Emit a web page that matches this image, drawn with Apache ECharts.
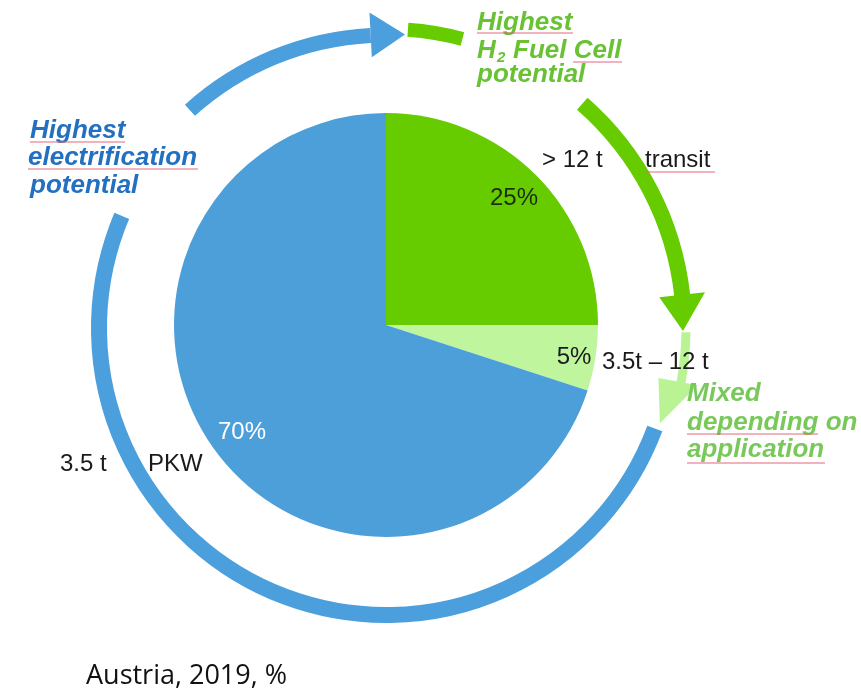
<!DOCTYPE html>
<html>
<head>
<meta charset="utf-8">
<script src="https://cdn.jsdelivr.net/npm/echarts@6/dist/echarts.min.js"></script>
<style>
  html, body { margin: 0; padding: 0; background: #fff; }
  #chart { width: 861px; height: 692px; }
</style>
</head>
<body>
<div id="chart"></div>
<script>
// weight classes and their share (Austria, 2019)
var categories = ['> 12 t', '3.5t – 12 t', '3.5 t'];
var segmentNames = ['transit', '', 'PKW'];
var shares = [25, 5, 70];
var pctLabels = ['25%', '5%', '70%'];

var pieColors = ['#66cc00', '#bff59d', '#4d9fda'];
var pctColors = ['#1d2b10', '#1a1a1a', '#ffffff'];
var pctPos = [[514, 198], [574, 357], [242, 432]];

var BLUE = '#4b9fdc', GREEN = '#66cc00', LIGHT = '#b9f393';
var ax = 386, ay = 328;   // centre of the arrow ring

function pt(deg, r) {
  var a = deg * Math.PI / 180;
  return [ax + r * Math.cos(a), ay - r * Math.sin(a)];
}
function rad(deg) { return -deg * Math.PI / 180; }

// arc from math angle a1 to a2 going clockwise on screen (a1 > a2)
function arc(a1, a2, r, w, color) {
  return {
    type: 'arc', silent: true,
    shape: { cx: ax, cy: ay, r: r, startAngle: rad(a1), endAngle: rad(a2), clockwise: true },
    style: { stroke: color, lineWidth: w, fill: null }
  };
}
function head(aBase, r0, r1, aTip, rTip, color) {
  return {
    type: 'polygon', silent: true,
    shape: { points: [pt(aBase, r0), pt(aBase, r1), pt(aTip, rTip)] },
    style: { fill: color }
  };
}
function txt(s, x, y, color, font, align) {
  return {
    type: 'text', silent: true,
    style: { text: s, x: x, y: y, fill: color, font: font,
             align: align || 'left', verticalAlign: 'middle',
             textAlign: align || 'left', textVerticalAlign: 'middle' }
  };
}
function uline(x1, x2, y) {
  return {
    type: 'line', silent: true,
    shape: { x1: x1, y1: y, x2: x2, y2: y },
    style: { stroke: '#e3667c', lineWidth: 1 }
  };
}

var LBL = '24px "Liberation Sans", Arial, sans-serif';
var HEAD = 'italic bold 26px "Liberation Sans", Arial, sans-serif';
var blueTxt = '#2470c0', greenTxt = '#68c234', mixTxt = '#79c95a';

var graphics = [
  // blue ring with arrow at the top
  arc(-20.5, -203, 287, 16, BLUE),
  arc(132, 93, 293, 15, BLUE),
  head(93, 271, 316, 86.3, 294, BLUE),
  // green arrow
  arc(85.8, 75.2, 299, 14, GREEN),
  arc(48.8, 6.2, 298, 16, GREEN),
  head(6.4, 275, 321, -0.6, 297, GREEN),
  // light green arrow
  arc(-0.8, -10.6, 300, 9, LIGHT),
  head(-10.4, 277, 317, -19.2, 290, LIGHT),

  txt('Highest', 30, 131, blueTxt, HEAD),
  txt('electrification', 28, 158, blueTxt, HEAD),
  txt('potential', 30, 186, blueTxt, HEAD),
  uline(30, 125, 142), uline(28, 198, 169),

  txt('Highest', 477, 23, greenTxt, HEAD),
  txt('H', 477, 51, greenTxt, HEAD),
  txt('2', 497, 58, greenTxt, 'italic bold 15px "Liberation Sans", Arial, sans-serif'),
  txt('Fuel Cell', 513, 51, greenTxt, HEAD),
  txt('potential', 477, 75, greenTxt, HEAD),
  uline(477, 573, 33), uline(573, 622, 62),

  txt('Mixed', 687, 394, mixTxt, HEAD),
  txt('depending on', 687, 423, mixTxt, HEAD),
  txt('application', 687, 450, mixTxt, HEAD),
  uline(687, 818, 434), uline(687, 825, 463),

  txt(categories[0], 542, 160, '#1a1a1a', LBL),
  txt(segmentNames[0], 645, 160, '#1a1a1a', LBL),
  uline(645, 715, 172),
  txt(categories[1], 602, 362, '#1a1a1a', LBL),
  txt(categories[2], 60, 464, '#1a1a1a', LBL),
  txt(segmentNames[2], 148, 464, '#1a1a1a', LBL),

  txt('Austria, 2019, %', 86, 676, '#111111', '27px "Open Sans", "Noto Sans", sans-serif')
];

var myChart = echarts.init(document.getElementById('chart'));
var option = {
  backgroundColor: '#fff',
  animation: false,
  series: [
    {
      type: 'pie',
      center: [386, 325],
      radius: [0, 212],
      startAngle: 90,
      clockwise: true,
      silent: true,
      avoidLabelOverlap: false,
      itemStyle: { borderWidth: 0 },
      label: {
        show: true,
        position: 'inside',
        fontSize: 24,
        fontFamily: '"Liberation Sans", Arial, sans-serif',
        formatter: function (p) { return pctLabels[p.dataIndex]; }
      },
      labelLine: { show: false },
      labelLayout: function (p) {
        var q = pctPos[p.dataIndex];
        return { x: q[0], y: q[1], align: 'center', verticalAlign: 'middle' };
      },
      data: shares.map(function (v, i) {
        return {
          value: v,
          name: categories[i],
          itemStyle: { color: pieColors[i] },
          label: { color: pctColors[i] }
        };
      })
    }
  ],
  graphic: { elements: graphics }
};
myChart.setOption(option);
</script>
</body>
</html>
